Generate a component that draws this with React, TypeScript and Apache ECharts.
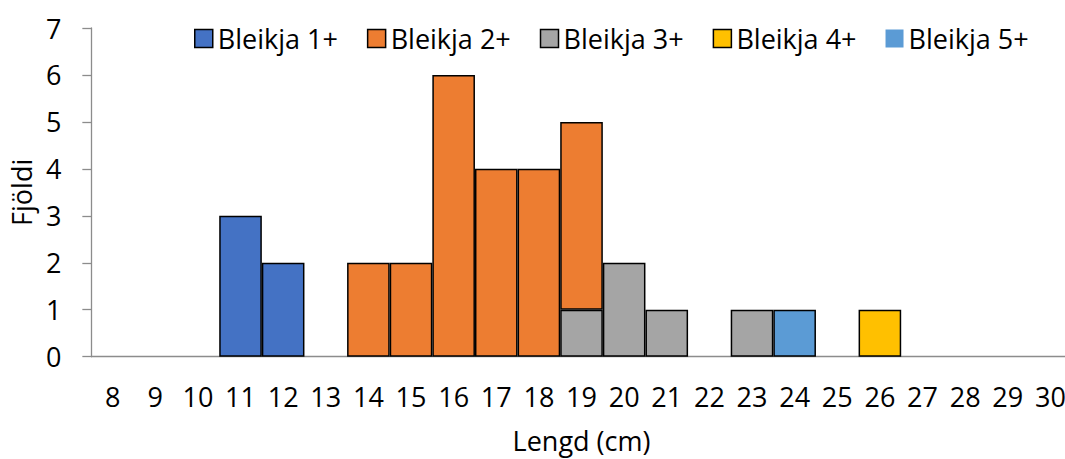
import React, { useEffect, useRef } from "react";
import * as echarts from "echarts";

// Length classes (cm)
const lengths = ["8", "9", "10", "11", "12", "13", "14", "15", "16", "17", "18", "19", "20", "21", "22", "23", "24", "25", "26", "27", "28", "29", "30"];

// Counts per length class for each age group
const age1 = [0, 0, 0, 3, 2, 0, 0, 0, 0, 0, 0, 0, 0, 0, 0, 0, 0, 0, 0, 0, 0, 0, 0];
const age2 = [0, 0, 0, 0, 0, 0, 2, 2, 6, 4, 4, 4, 0, 0, 0, 0, 0, 0, 0, 0, 0, 0, 0];
const age3 = [0, 0, 0, 0, 0, 0, 0, 0, 0, 0, 0, 1, 2, 1, 0, 1, 0, 0, 0, 0, 0, 0, 0];
const age4 = [0, 0, 0, 0, 0, 0, 0, 0, 0, 0, 0, 0, 0, 0, 0, 0, 0, 0, 1, 0, 0, 0, 0];
const age5 = [0, 0, 0, 0, 0, 0, 0, 0, 0, 0, 0, 0, 0, 0, 0, 0, 1, 0, 0, 0, 0, 0, 0];

const yTicks = [0, 1, 2, 3, 4, 5, 6, 7];

const FONT = "'Open Sans', sans-serif";
const AXIS_GRAY = "#8c8c8c";
const LABEL_SIZE = 27;

const groups = [
  { name: "Bleikja 1+", data: age1, color: "#4472C4" },
  { name: "Bleikja 2+", data: age2, color: "#ED7D31" },
  { name: "Bleikja 3+", data: age3, color: "#A5A5A5" },
  { name: "Bleikja 4+", data: age4, color: "#FFC000" },
  { name: "Bleikja 5+", data: age5, color: "#5B9BD5" },
];

// 3+ sits at the bottom of the shared 19 cm column, so it is stacked first
const stackOrder = ["Bleikja 3+", "Bleikja 1+", "Bleikja 2+", "Bleikja 4+", "Bleikja 5+"];

export default function App() {
  const ref = useRef<HTMLDivElement>(null);

  useEffect(() => {
    if (!ref.current) return;
    const chart = echarts.init(ref.current, undefined, { renderer: "svg" });

    const series = stackOrder.map((n) => {
      const g = groups.find((x) => x.name === n)!;
      return {
        name: g.name,
        type: "bar" as const,
        stack: "total",
        barCategoryGap: "0%",
        data: g.data.map((v) => (v > 0 ? v : null)),
        itemStyle: { color: g.color, borderColor: "#000", borderWidth: 1.5 },
      };
    });

    chart.setOption({
      animation: false,
      textStyle: { fontFamily: FONT, color: "#000" },
      legend: {
        left: 189,
        top: 20,
        icon: "rect",
        itemWidth: 18,
        itemHeight: 18,
        itemGap: 29,
        textStyle: { fontFamily: FONT, fontSize: LABEL_SIZE, color: "#000" },
        data: groups.map((g) =>
          g.name === "Bleikja 5+"
            ? { name: g.name, itemStyle: { borderWidth: 0 } }
            : { name: g.name, itemStyle: { borderColor: "#000", borderWidth: 1.5 } }
        ),
      },
      grid: { left: 87, top: 28, width: 984.7, height: 328.7, containLabel: false },
      xAxis: {
        type: "category",
        data: lengths,
        boundaryGap: true,
        name: "Lengd (cm)",
        nameLocation: "middle",
        nameGap: 70,
        nameTextStyle: { fontFamily: FONT, fontSize: 27, color: "#000", verticalAlign: "top" },
        axisLine: { lineStyle: { color: AXIS_GRAY, width: 1.3 } },
        axisTick: { alignWithLabel: false, length: 9, lineStyle: { color: AXIS_GRAY, width: 1.3 } },
        axisLabel: { fontFamily: FONT, fontSize: LABEL_SIZE, color: "#000", margin: 26, interval: 0 },
      },
      yAxis: {
        type: "value",
        min: yTicks[0],
        max: yTicks[yTicks.length - 1],
        interval: 1,
        name: "Fjöldi",
        nameLocation: "middle",
        nameGap: 50,
        nameTextStyle: { fontFamily: FONT, fontSize: 27, color: "#000" },
        axisLine: { show: true, lineStyle: { color: AXIS_GRAY, width: 1.3 } },
        axisTick: { show: true, inside: false, length: 9, lineStyle: { color: AXIS_GRAY, width: 1.3 } },
        splitLine: { show: false },
        axisLabel: { fontFamily: FONT, fontSize: LABEL_SIZE, color: "#000", margin: 30 },
      },
      series,
    });

    return () => chart.dispose();
  }, []);

  return (
    <div style={{ position: "absolute", left: 0, top: 0, width: 1065, height: 459, overflow: "hidden", background: "#fff" }}>
      <div ref={ref} style={{ width: 1090, height: 459 }} />
    </div>
  );
}
